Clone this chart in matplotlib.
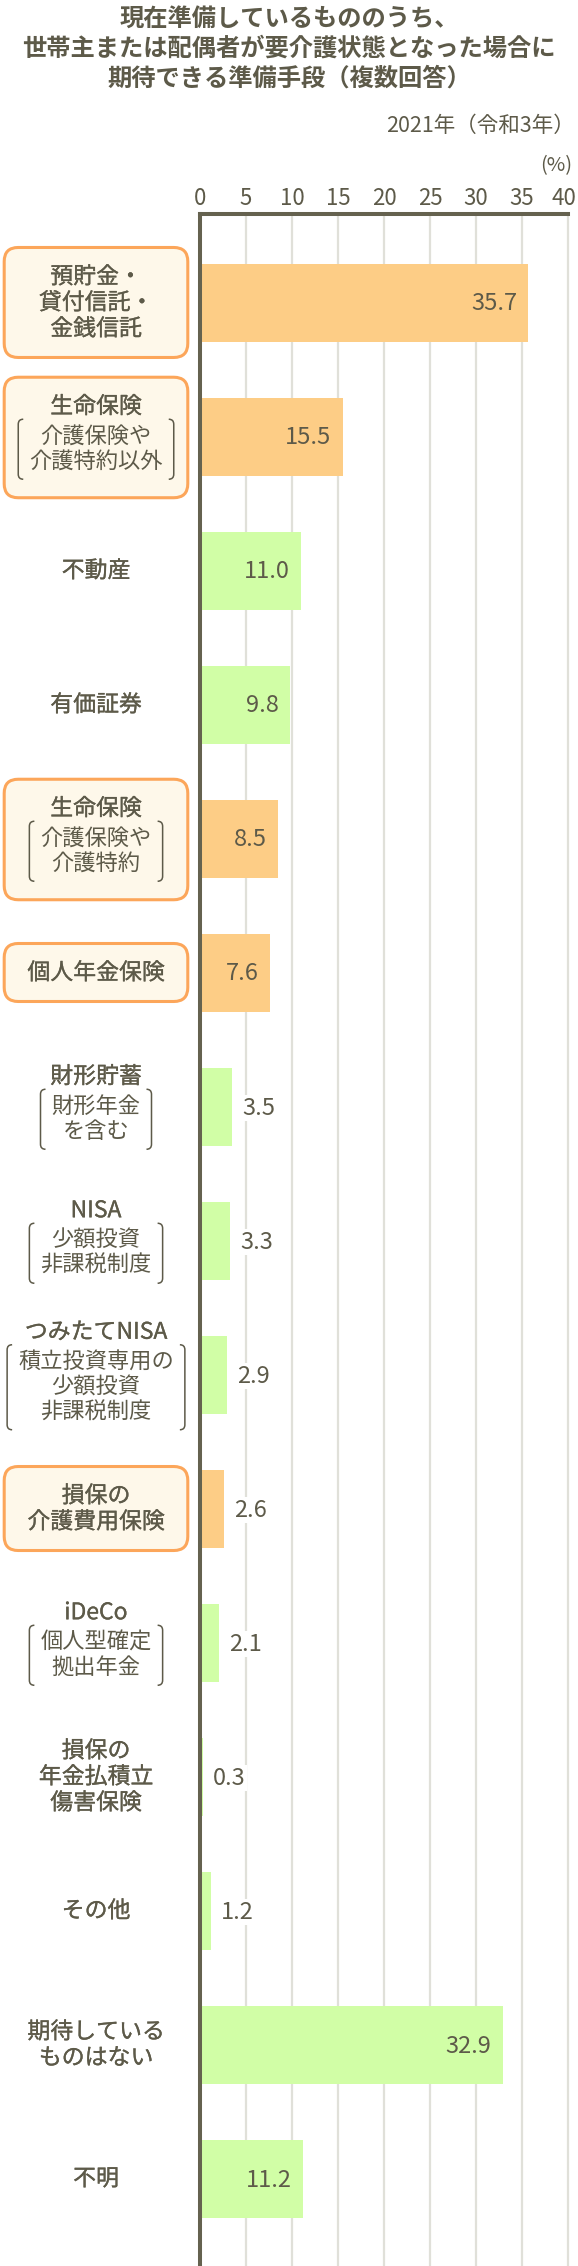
import matplotlib
matplotlib.use('Agg')
import matplotlib.pyplot as plt
import matplotlib.transforms as mtransforms
import matplotlib.patheffects as pe
from matplotlib.patches import FancyBboxPatch, PathPatch
from matplotlib.path import Path

plt.rcParams['font.family'] = ['Noto Sans CJK JP', 'DejaVu Sans']

# --- data ---
title_lines = ['現在準備しているもののうち、',
               '世帯主または配偶者が要介護状態となった場合に',
               '期待できる準備手段（複数回答）']
year_label = '2021年（令和3年）'
unit_label = '(%)'

main_labels = [
    ['預貯金・', '貸付信託・', '金銭信託'],
    ['生命保険'],
    ['不動産'],
    ['有価証券'],
    ['生命保険'],
    ['個人年金保険'],
    ['財形貯蓄'],
    ['NISA'],
    ['つみたてNISA'],
    ['損保の', '介護費用保険'],
    ['iDeCo'],
    ['損保の', '年金払積立', '傷害保険'],
    ['その他'],
    ['期待している', 'ものはない'],
    ['不明'],
]
sub_labels = [
    [],
    ['介護保険や', '介護特約以外'],
    [],
    [],
    ['介護保険や', '介護特約'],
    [],
    ['財形年金', 'を含む'],
    ['少額投資', '非課税制度'],
    ['積立投資専用の', '少額投資', '非課税制度'],
    [],
    ['個人型確定', '拠出年金'],
    [],
    [],
    [],
    [],
]
values = [35.7, 15.5, 11.0, 9.8, 8.5, 7.6, 3.5, 3.3, 2.9, 2.6, 2.1, 0.3, 1.2, 32.9, 11.2]
highlight = [True, True, False, False, True, True, False, False, False,
             True, False, False, False, False, False]
x_ticks = [0, 5, 10, 15, 20, 25, 30, 35, 40]

# --- styles ---
TEXT = '#5d5a49'
AXIS = '#65624f'
GRID = '#e0e0d9'
ORANGE_BAR = '#fdcd86'
GREEN_BAR = '#d1fea6'
BOX_EDGE = '#fca65a'
BOX_FILL = '#fef8ea'

W, H = 578, 2266
DPI = 100
fig = plt.figure(figsize=(W / DPI, H / DPI), dpi=DPI)
fig.patch.set_facecolor('white')

ax_left, ax_right, ax_top = 200, 568, 214
ax = fig.add_axes([ax_left / W, 0, (ax_right - ax_left) / W, 1 - ax_top / H])
ax.patch.set_visible(False)

n = len(values)
pos = list(range(n))
colors = [ORANGE_BAR if h else GREEN_BAR for h in highlight]
ax.barh(pos, values, height=0.58, color=colors, zorder=2)

ax.set_xlim(0, 40)
ax.set_ylim(n - 1 + 0.649, -0.664)
ax.set_xticks(x_ticks)
ax.set_yticks([])
ax.xaxis.tick_top()
ax.tick_params(axis='x', length=0, pad=3, labelsize=16, labelcolor=TEXT)
ax.xaxis.grid(True, color=GRID, linewidth=1.6)
ax.set_axisbelow(True)
for gl in ax.get_xgridlines():
    gl.set_clip_on(False)
for s in ['right', 'bottom']:
    ax.spines[s].set_visible(False)
for s in ['top', 'left']:
    ax.spines[s].set_color(AXIS)
    ax.spines[s].set_linewidth(2.9)
    ax.spines[s].set_zorder(3)

# shift the last tick label ("40") a little left so it stays inside
last = ax.xaxis.get_major_ticks()[-1]
last.label2.set_transform(last.label2.get_transform()
                          + mtransforms.ScaledTranslation(-4.5 / DPI, 0, fig.dpi_scale_trans))

# value labels
inside = mtransforms.offset_copy(ax.transData, fig=fig, x=-11, y=-1, units='dots')
outside = mtransforms.offset_copy(ax.transData, fig=fig, x=10, y=-1, units='dots')
for i, v in enumerate(values):
    if v > 5:
        ax.text(v, i, f'{v:.1f}', ha='right', va='center', fontsize=17,
                color=TEXT, transform=inside, zorder=4)
    else:
        ax.text(v, i, f'{v:.1f}', ha='left', va='center', fontsize=17,
                color=TEXT, transform=outside, zorder=4,
                bbox=dict(facecolor='white', edgecolor='none', pad=1))

# overlay in pixel coordinates (y downwards) for titles and category labels
lay = fig.add_axes([0, 0, 1, 1], zorder=-1)
lay.set_xlim(0, W)
lay.set_ylim(H, 0)
lay.axis('off')

for k, line in enumerate(title_lines):
    lay.text(W / 2, 19 + 30 * k, line, ha='center', va='center',
             fontsize=17.5, fontweight='bold', color=TEXT)
lay.text(575, 126, year_label, ha='right', va='center', fontsize=15.5, color=TEXT)
lay.text(572, 166, unit_label, ha='right', va='center', fontsize=14.5, color=TEXT)

renderer = fig.canvas.get_renderer()
label_x = 96
medium = [pe.withStroke(linewidth=0.2, foreground=TEXT)]


def bracket(x, top, bottom, side, r=5):
    d = 1 if side == 'left' else -1
    verts = [(x + d * r, top), (x, top), (x, top + r),
             (x, bottom - r), (x, bottom), (x + d * r, bottom)]
    codes = [Path.MOVETO, Path.CURVE3, Path.CURVE3,
             Path.LINETO, Path.CURVE3, Path.CURVE3]
    lay.add_patch(PathPatch(Path(verts, codes), facecolor='none',
                            edgecolor=TEXT, linewidth=1.1))


for i in range(n):
    yc = H - ax.transData.transform((0, i))[1]
    mains, subs = main_labels[i], sub_labels[i]
    offs = [0.0]
    kinds = ['main'] * len(mains) + ['sub'] * len(subs)
    for a, b in zip(kinds[:-1], kinds[1:]):
        step = 26 if (a == 'main' and b == 'main') else (29.5 if a == 'main' else 25)
        offs.append(offs[-1] + step)
    shift = -3 if subs else 0
    mid = (offs[0] + offs[-1]) / 2
    ys = [yc + o - mid + shift for o in offs]

    sub_widths = []
    for txt, kind, y in zip(mains + subs, kinds, ys):
        t = lay.text(label_x, y, txt, ha='center', va='center',
                     fontsize=16.5 if kind == 'main' else 16, color=TEXT)
        if kind == 'main':
            t.set_path_effects(medium)
        else:
            sub_widths.append(t.get_window_extent(renderer).width)

    bottom_extent = ys[-1] + 30
    if subs:
        half = max(sub_widths) / 2 + 11
        btop = ys[len(mains)] - 17
        bbot = ys[-1] + 18
        bracket(label_x - half, btop, bbot, 'left')
        bracket(label_x + half, btop, bbot, 'right')
        bottom_extent = max(bottom_extent, bbot + 20)

    if highlight[i]:
        top = ys[0] - 31 + 1.5
        bot = bottom_extent - 1.5
        lay.add_patch(FancyBboxPatch((4.2, top), 183.6, bot - top,
                                     boxstyle='round,pad=0,rounding_size=14',
                                     facecolor=BOX_FILL, edgecolor=BOX_EDGE,
                                     linewidth=2.2, zorder=0))

fig.savefig('out.png', dpi=DPI, facecolor='white')
